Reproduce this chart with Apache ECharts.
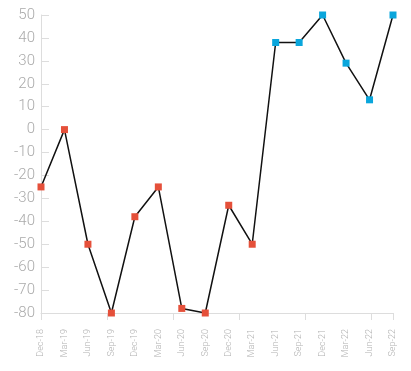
<!DOCTYPE html>
<html><head><meta charset="utf-8">
<script src="https://cdn.jsdelivr.net/npm/echarts@6/dist/echarts.min.js"></script>
<style>html,body{margin:0;padding:0;background:#fff}#c{width:411px;height:371px}</style>
</head><body><div id="c"></div>
<script>
const categories = ['Dec-18','Mar-19','Jun-19','Sep-19','Dec-19','Mar-20','Jun-20','Sep-20','Dec-20','Mar-21','Jun-21','Sep-21','Dec-21','Mar-22','Jun-22','Sep-22'];
const values = [-25, 0, -50, -80, -38, -25, -78, -80, -33, -50, 38, 38, 50, 29, 13, 50];
const blueFrom = 'Jun-21';
const yTicks = {min: -80, max: 50, interval: 10};

const RED = '#e5503a', BLUE = '#0aa6dc';
const splitIdx = categories.indexOf(blueFrom);
const chart = echarts.init(document.getElementById('c'));
chart.setOption({
  animation: false,
  grid: {left: 41, right: 18, top: 15, bottom: 58},
  xAxis: [{
    type: 'category', data: categories, boundaryGap: false,
    axisLine: {show: false}, axisTick: {show: false}, splitLine: {show: false},
    axisLabel: {rotate: 90, interval: 0, color: '#b0b0b0', fontSize: 9, fontFamily: 'Roboto', fontWeight: 300, margin: 16}
  }, {
    type: 'category', data: categories, boundaryGap: true, position: 'bottom',
    axisLine: {onZero: true, lineStyle: {color: '#ddd', width: 1}},
    axisTick: {show: true, length: 7, lineStyle: {color: '#ddd'}},
    axisLabel: {show: false}, splitLine: {show: false}
  }],
  yAxis: {
    type: 'value', min: yTicks.min, max: yTicks.max, interval: yTicks.interval,
    axisLine: {show: true, lineStyle: {color: '#ddd'}},
    axisTick: {show: true, inside: true, length: 8, lineStyle: {color: '#ddd'}},
    splitLine: {show: false},
    axisLabel: {color: '#aaa', fontSize: 15, fontFamily: 'Roboto', fontWeight: 300, margin: 6}
  },
  series: [{
    type: 'line', xAxisIndex: 0,
    data: values.map((v, i) => ({value: v, itemStyle: {color: i < splitIdx ? RED : BLUE}})),
    symbol: 'rect', symbolSize: 7, showAllSymbol: true,
    lineStyle: {color: '#111', width: 1.5},
    itemStyle: {borderWidth: 0}
  }]
});
</script></body></html>
